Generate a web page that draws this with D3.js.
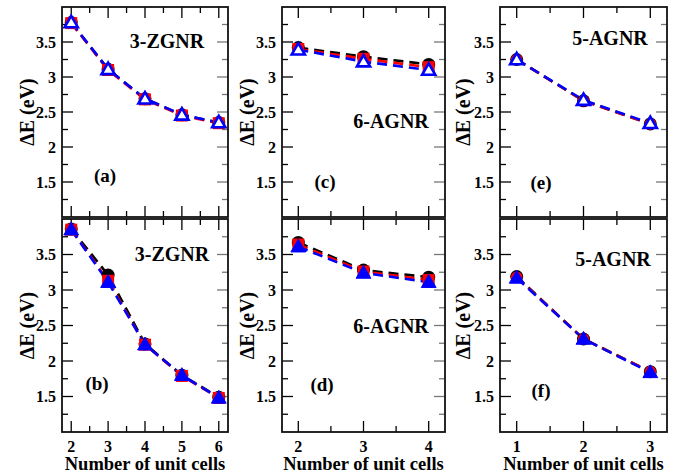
<!DOCTYPE html>
<html><head><meta charset="utf-8">
<script src="https://cdn.jsdelivr.net/npm/d3@7"></script>
<style>body{margin:0;background:#fff}svg{display:block}</style>
</head><body>
<svg id="c" width="676" height="474" font-family="'Liberation Serif', 'Times New Roman', Times, 'DejaVu Serif', serif" font-weight="bold"></svg>
<script>
// x categories (number of unit cells)
const cellsZ = [2, 3, 4, 5, 6];
const cells6A = [2, 3, 4];
const cells5A = [1, 2, 3];
// panel (a) 3-ZGNR
const aBlack = [3.78, 3.11, 2.69, 2.46, 2.35];
const aRed   = [3.77, 3.10, 2.68, 2.45, 2.34];
const aBlue  = [3.78, 3.11, 2.69, 2.46, 2.35];
// panel (b) 3-ZGNR
const bBlack = [3.86, 3.21, 2.24, 1.80, 1.49];
const bRed   = [3.85, 3.13, 2.23, 1.79, 1.48];
const bBlue  = [3.85, 3.11, 2.23, 1.80, 1.48];
// panel (c) 6-AGNR
const cBlack = [3.42, 3.29, 3.18];
const cRed   = [3.40, 3.26, 3.14];
const cBlue  = [3.39, 3.22, 3.10];
// panel (d) 6-AGNR
const dBlack = [3.67, 3.28, 3.18];
const dRed   = [3.64, 3.26, 3.14];
const dBlue  = [3.61, 3.24, 3.11];
// panel (e) 5-AGNR
const eBlack = [3.25, 2.66, 2.33];
const eRed   = [3.25, 2.66, 2.33];
const eBlue  = [3.25, 2.67, 2.34];
// panel (f) 5-AGNR
const fBlack = [3.19, 2.31, 1.85];
const fRed   = [3.18, 2.31, 1.85];
const fBlue  = [3.17, 2.31, 1.84];

const yTicks = [1.5, 2, 2.5, 3, 3.5];
const yLabel = "ΔE (eV)";
const xLabel = "Number of unit cells";

const panels = [
  {id:"(a)", name:"3-ZGNR", x:cellsZ, s:[aBlack,aRed,aBlue], col:0, row:0, xd:[1.75,6.25], red:"square", open:true,
   nameXY:[167,48], tagXY:[105,182]},
  {id:"(b)", name:"3-ZGNR", x:cellsZ, s:[bBlack,bRed,bBlue], col:0, row:1, xd:[1.75,6.25], red:"square", open:false,
   nameXY:[172,261], tagXY:[97,390]},
  {id:"(c)", name:"6-AGNR", x:cells6A, s:[cBlack,cRed,cBlue], col:1, row:0, xd:[1.75,4.25], red:"square", open:true,
   nameXY:[391,128], tagXY:[325,188]},
  {id:"(d)", name:"6-AGNR", x:cells6A, s:[dBlack,dRed,dBlue], col:1, row:1, xd:[1.75,4.25], red:"square", open:false,
   nameXY:[391,333], tagXY:[322,391]},
  {id:"(e)", name:"5-AGNR", x:cells5A, s:[eBlack,eRed,eBlue], col:2, row:0, xd:[0.75,3.25], red:"circle", open:true,
   nameXY:[610,45], tagXY:[541,189]},
  {id:"(f)", name:"5-AGNR", x:cells5A, s:[fBlack,fRed,fBlue], col:2, row:1, xd:[0.75,3.25], red:"circle", open:false,
   nameXY:[613,266], tagXY:[541,397]}
];
const cols = [[62,228],[282,445],[500,667]];
const rows = [[7,217],[219,432]];
const ylabX = [27, 247, 463];
const colors = ["#000000","#ff0000","#0000ff"];

const svg = d3.select("#c");

panels.forEach(p => {
  const [x0,x1] = cols[p.col], [y0,y1] = rows[p.row];
  const xs = d3.scaleLinear().domain(p.xd).range([x0,x1]);
  const ys = d3.scaleLinear().domain([1,4]).range([y1,y0]);
  const g = svg.append("g");
  const clip = "clip"+p.col+p.row;
  svg.append("clipPath").attr("id",clip).append("rect").attr("x",x0).attr("y",y0).attr("width",x1-x0).attr("height",y1-y0);

  // ticks
  const xMaj = p.x, xMin = d3.range(Math.ceil(p.xd[0]*2)/2, p.xd[1], 0.5).filter(v => !Number.isInteger(v));
  const yMin = d3.range(1.25, 4, 0.25).filter(v => v*2 !== Math.round(v*2));
  const tk = g.append("g");
  const L = 11, l = 6;
  xMaj.forEach(v => {
    tk.append("line").attr("x1",xs(v)).attr("x2",xs(v)).attr("y1",y1).attr("y2",y1-L).attr("stroke","#000").attr("stroke-width",1.3);
    tk.append("line").attr("x1",xs(v)).attr("x2",xs(v)).attr("y1",y0).attr("y2",y0+L).attr("stroke","#000").attr("stroke-width",1.3);
  });
  xMin.forEach(v => {
    tk.append("line").attr("x1",xs(v)).attr("x2",xs(v)).attr("y1",y1).attr("y2",y1-l).attr("stroke","#000").attr("stroke-width",1.3);
    tk.append("line").attr("x1",xs(v)).attr("x2",xs(v)).attr("y1",y0).attr("y2",y0+l).attr("stroke","#000").attr("stroke-width",1.3);
  });
  yTicks.forEach(v => {
    tk.append("line").attr("x1",x0).attr("x2",x0+L).attr("y1",ys(v)).attr("y2",ys(v)).attr("stroke","#000").attr("stroke-width",1.3);
    tk.append("line").attr("x1",x1).attr("x2",x1-L).attr("y1",ys(v)).attr("y2",ys(v)).attr("stroke","#777").attr("stroke-width",1.3);
  });
  yMin.forEach(v => {
    tk.append("line").attr("x1",x0).attr("x2",x0+l).attr("y1",ys(v)).attr("y2",ys(v)).attr("stroke","#000").attr("stroke-width",1.3);
    tk.append("line").attr("x1",x1).attr("x2",x1-l).attr("y1",ys(v)).attr("y2",ys(v)).attr("stroke","#777").attr("stroke-width",1.3);
  });

  // y tick labels
  yTicks.forEach(v => {
    g.append("text").attr("x",x0-6).attr("y",ys(v)+5.5).attr("text-anchor","end").attr("font-size",16).text(v);
  });
  // x tick labels on bottom row
  if (p.row === 1) {
    xMaj.forEach(v => {
      g.append("text").attr("x",xs(v)).attr("y",y1+20).attr("text-anchor","middle").attr("font-size",16).text(v);
    });
    g.append("text").attr("x",(x0+x1)/2).attr("y",y1+38).attr("text-anchor","middle").attr("font-size",18.5).text(xLabel);
  }
  // y label
  g.append("text").attr("transform",`translate(${ylabX[p.col]+7},${(y0+y1)/2}) rotate(-90)`)
    .attr("text-anchor","middle").attr("font-size",20).text(yLabel);

  // lines
  const lg = g.append("g").attr("clip-path",`url(#${clip})`);
  p.s.forEach((vals,i) => {
    const line = d3.line().x((d,j)=>xs(p.x[j])).y(d=>ys(d));
    lg.append("path").attr("d",line(vals)).attr("fill","none").attr("stroke",colors[i])
      .attr("stroke-width",2.6).attr("stroke-dasharray","10,6");
  });
  // markers
  p.s[0].forEach((v,j) => {
    lg.append("circle").attr("cx",xs(p.x[j])).attr("cy",ys(v)).attr("r",6.5).attr("fill","#000");
  });
  p.s[1].forEach((v,j) => {
    if (p.red === "square")
      lg.append("rect").attr("x",xs(p.x[j])-6).attr("y",ys(v)-6).attr("width",12).attr("height",12).attr("fill","#ff0000");
    else
      lg.append("circle").attr("cx",xs(p.x[j])).attr("cy",ys(v)).attr("r",5.8).attr("fill","#ff0000");
  });
  const tri = d3.symbol().type(d3.symbolTriangle).size(p.open ? 75 : 95);
  p.s[2].forEach((v,j) => {
    lg.append("path").attr("d",tri()).attr("transform",`translate(${xs(p.x[j])},${ys(v)+1})`)
      .attr("fill",p.open ? "#fff" : "#0000ff").attr("stroke","#0000ff").attr("stroke-width",p.open?2.6:1);
  });

  // frame
  g.append("rect").attr("x",x0).attr("y",y0).attr("width",x1-x0).attr("height",y1-y0)
    .attr("fill","none").attr("stroke","#111").attr("stroke-width",1.8);

  // annotations
  g.append("text").attr("x",p.nameXY[0]).attr("y",p.nameXY[1]).attr("text-anchor","middle").attr("font-size",20).text(p.name);
  g.append("text").attr("x",p.tagXY[0]).attr("y",p.tagXY[1]).attr("text-anchor","middle").attr("font-size",19).text(p.id);
});
</script>
</body></html>
